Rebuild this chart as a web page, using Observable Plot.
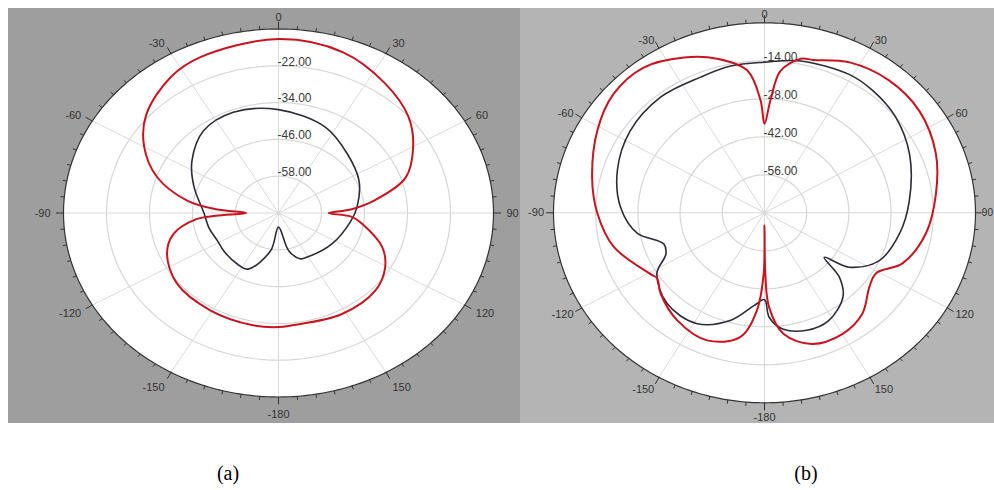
<!DOCTYPE html>
<html><head><meta charset="utf-8">
<script src="https://cdn.jsdelivr.net/npm/d3@7"></script>
<script src="https://cdn.jsdelivr.net/npm/@observablehq/plot@0.6"></script>
<style>
body{margin:0;background:#fff;width:994px;height:490px;position:relative;overflow:hidden;font-family:"Liberation Sans",Arial,sans-serif}
.panel{position:absolute;top:8px;height:415px;overflow:hidden}
#pa{left:8px;width:512px;background:#9e9e9e}
#pb{left:520px;width:474px;background:#b4b4b4}
.cap{position:absolute;top:462px;font-family:"Liberation Serif","Times New Roman",serif;font-size:20px;transform:translateX(-50%);color:#000}
</style></head><body>
<div id="pa" class="panel"></div><div id="pb" class="panel"></div>
<div class="cap" style="left:228px">(a)</div><div class="cap" style="left:806px">(b)</div>
<script>
// Angle axis (degrees, clockwise from top)
const angleTickValues = [0,30,60,90,120,150,180,210,240,270,300,330];
const angleTickLabels = ["0","30","60","90","120","150","-180","-150","-120","-90","-60","-30"];

// Panel (a)
const aRange = [-70, -10];
const aRingValues = [-58, -46, -34, -22];
const aRingLabels = ["-58.00", "-46.00", "-34.00", "-22.00"];
const aRedAngle = [-180,-169,-149,-129,-113,-103,-95,-93,-90,-86,-81,-71,-60,-49,-34,-23,0,19,35,49,60,72,81,86.5,90,93.5,98.6,111,121,133,152,174];
const aRedDb    = [-32.8,-32.7,-33.0,-33.5,-36.2,-40.0,-47.0,-52.5,-61.0,-52.5,-44.2,-34.2,-26.7,-21.1,-16.4,-14.7,-13.3,-14.6,-18.3,-22.0,-26.6,-32.7,-42.6,-49.5,-56.0,-49.5,-46.4,-39.0,-35.3,-33.0,-32.6,-33.2];
const aBlackAngle = [-180,-170,-155,-145,-130,-117,-104,-90,-70,-55,-38,-21,0,25,45,65,85,98,124,153,158,167];
const aBlackDb    = [-65.4,-57.6,-49.8,-49.8,-50.3,-50.7,-50.0,-49.2,-44.9,-40.5,-36.0,-34.8,-36.3,-39.1,-42.8,-45.2,-48.0,-49.7,-52.0,-53.6,-53.9,-57.4];

// Panel (b)
const bRange = [-70, 0];
const bRingValues = [-56, -42, -28, -14];
const bRingLabels = ["-56.00", "-42.00", "-28.00", "-14.00"];
const bRedAngle = [-180,-179.3,-176,-170,-158,-144,-131,-124,-121,-104,-90,-77,-61,-49,-37,-25,-15.5,-6.2,-1.8,0,2.7,5.8,12,16,27,40,54,69,83,98,112,121,128,139,150,162,172,177.5,179.3];
const bRedDb    = [-65.3,-47.5,-34.0,-23.5,-19.3,-20.9,-24.4,-27.0,-26.0,-18.4,-14.5,-11.3,-6.7,-3.5,-3.1,-6.9,-11.1,-17.3,-28.6,-37.2,-28.6,-17.4,-12.0,-11.4,-7.8,-6.1,-6.4,-9.1,-12.7,-15.9,-20.5,-26.8,-25.8,-20.6,-18.4,-19.2,-25.0,-35.2,-47.5];
const bBlackAngle = [-180,-174,-164,-151,-136,-122,-115,-109,-100,-87.5,-72,-56,-39,-23,-11.7,0,12,29,38.5,51,66,85,100,115,125.5,129.6,133.7,140,152,162,172,177.7];
const bBlackDb    = [-38.0,-35.5,-28.7,-23.4,-23.5,-27.9,-33.9,-34.7,-27.1,-22.2,-18.7,-16.2,-15.2,-15.7,-14.8,-14.5,-12.8,-11.8,-12.4,-14.0,-17.3,-21.8,-24.6,-28.1,-35.5,-44.3,-35.6,-29.5,-24.9,-24.5,-26.8,-31.5];

const RED = "#c8141e", DARK = "#2c2c36";
const rad = a => a * Math.PI / 180;

function toPoints(angles, dbs, range) {
  return angles.map((a, i) => {
    const r = Math.max(0, (dbs[i] - range[0]) / (range[1] - range[0]));
    return {x: r * Math.sin(rad(a)), y: r * Math.cos(rad(a))};
  });
}

function panel({width, height, cx, cy, rx, ry, range, rings, ringLabels, series, lab}) {
  const circle = d3.range(0, 360, 1).map(a => ({x: Math.sin(rad(a)), y: Math.cos(rad(a))}));
  const ringPts = rings.flatMap(v => {
    const r = (v - range[0]) / (range[1] - range[0]);
    return d3.range(0, 360, 2).map(a => ({ring: v, x: r * Math.sin(rad(a)), y: r * Math.cos(rad(a))}));
  });
  const spokes = d3.range(0, 360, 30);
  const ticks = d3.range(0, 360, 5);
  const ringLab = rings.map((v, i) => ({y: (v - range[0]) / (range[1] - range[0]), t: ringLabels[i]}));
  const angLab = angleTickValues.map((a, i) => {
    const s = Math.sin(rad(a)), c = Math.cos(rad(a));
    const side = Math.abs(s) < 1e-6 ? "middle" : (s > 0 ? "start" : "end");
    const xf = (a === 90 && lab.right90) ? lab.right90 : lab.x;
    return {x: xf * s, y: (c >= 0 ? lab.top : lab.bottom) * c, t: angleTickLabels[i], anchor: side,
            size: (a === 90 && lab.right90Size) ? lab.right90Size : 11};
  });
  const marks = [
    Plot.line(circle, {x: "x", y: "y", curve: "linear-closed", fill: "white", stroke: "none"}),
    Plot.line(ringPts, {x: "x", y: "y", z: "ring", curve: "linear-closed", stroke: "#d6d6d6", strokeWidth: 1.2}),
    Plot.link(spokes, {x1: 0, y1: 0, x2: a => Math.sin(rad(a)), y2: a => Math.cos(rad(a)), stroke: "#d9d9d9", strokeWidth: 1}),
    Plot.link(ticks, {x1: a => Math.sin(rad(a)), y1: a => Math.cos(rad(a)),
      x2: a => (a % 30 === 0 ? 1.035 : 1.018) * Math.sin(rad(a)), y2: a => (a % 30 === 0 ? 1.04 : 1.02) * Math.cos(rad(a)),
      stroke: "#333", strokeWidth: 1}),
    Plot.line(circle, {x: "x", y: "y", curve: "linear-closed", stroke: "#333", strokeWidth: 1.2}),
    Plot.text(ringLab, {x: 0, y: "y", text: "t", textAnchor: "start", dx: -1, dy: -4, fontSize: 12, fill: "#3a3a3a"}),
    ...["start", "middle", "end"].flatMap(anchor => [11, 10].map(size =>
      Plot.text(angLab.filter(d => d.anchor === anchor && d.size === size), {x: "x", y: "y", text: "t", textAnchor: anchor, fontSize: size, fill: "#333"})))
  ];
  for (const s of series) {
    marks.push(Plot.line(toPoints(s.angles, s.dbs, range), {x: "x", y: "y", curve: "catmull-rom-closed", stroke: s.color, strokeWidth: s.width}));
  }
  return Plot.plot({
    width, height,
    marginLeft: cx - rx, marginRight: width - cx - rx, marginTop: cy - ry, marginBottom: height - cy - ry,
    x: {domain: [-1, 1], axis: null}, y: {domain: [-1, 1], axis: null},
    style: {background: "transparent", fontFamily: "Liberation Sans, Arial, sans-serif"},
    marks
  });
}

document.getElementById("pa").append(panel({
  width: 512, height: 415, cx: 270, cy: 204.5, rx: 215, ry: 184, range: aRange,
  rings: aRingValues, ringLabels: aRingLabels, lab: {x: 1.06, top: 1.065, bottom: 1.095},
  series: [
    {angles: aBlackAngle, dbs: aBlackDb, color: DARK, width: 1.6},
    {angles: aRedAngle, dbs: aRedDb, color: RED, width: 2}
  ]
}));
document.getElementById("pb").append(panel({
  width: 474, height: 415, cx: 244, cy: 204.3, rx: 211, ry: 190, range: bRange,
  rings: bRingValues, ringLabels: bRingLabels, lab: {x: 1.045, top: 1.045, bottom: 1.075, right90: 1.03, right90Size: 10},
  series: [
    {angles: bBlackAngle, dbs: bBlackDb, color: DARK, width: 1.6},
    {angles: bRedAngle, dbs: bRedDb, color: RED, width: 2}
  ]
}));
</script></body></html>
